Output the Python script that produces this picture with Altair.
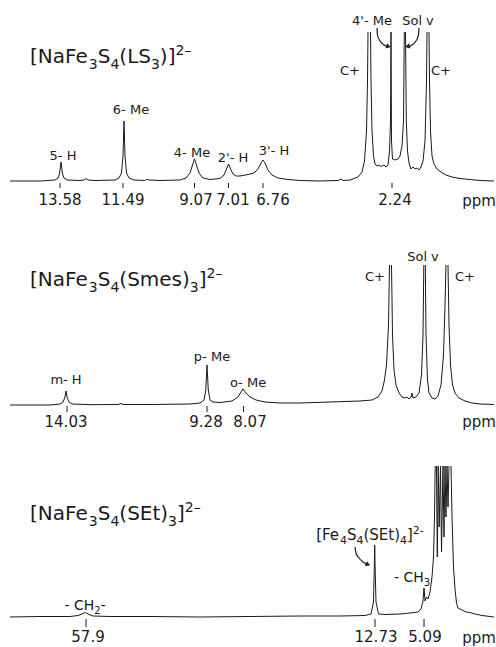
import altair as alt
import pandas as pd

FONT = "DejaVu Sans"
W = 496
INK = "#1a1a1a"

# ---------------- Panel 1: [NaFe3S4(LS3)]2- ----------------
P1_X = [
    [10, 40, 55, 58, 59.5, 60.5, 61, 61.5, 62.5, 64, 67, 80, 84, 86, 88, 95, 115, 119, 121.5, 123, 123.7,
     124, 124.3, 125, 126.5, 129, 134, 145, 146, 150, 160, 180, 186, 190, 192.5, 194.5, 196.5, 199, 203,
     210, 220, 224, 226.5, 228.5, 230.5, 233, 236, 240, 248, 254, 258, 261, 263, 265, 268, 272, 278, 288,
     300, 320, 338, 341, 343, 350, 358, 362, 364.5, 366.5, 367.5, 368],
    [370.5, 371, 372, 373.5, 375, 377, 379, 381, 384, 386, 388, 389.5, 390.5, 391, 391.5, 392.5, 395, 398,
     400, 402, 403.5, 404.3],
    [405.5, 406.3, 407.5, 409, 411, 413, 415, 417, 419, 421, 423, 425, 426.5, 427],
    [429, 429.5, 430.5, 432, 434, 437, 441, 446, 452, 460, 470, 480, 494],
]
P1_I = [
    [0, 0, 1, 3, 7, 15, 19, 15, 7, 3, 1, 0.5, 1, 2.5, 1, 0.5, 1, 3, 8, 25, 50,
     60, 50, 25, 8, 3, 1, 0.5, 1.5, 1, 0.5, 1, 3, 8, 16, 22, 16, 8, 3,
     1.5, 2.5, 6, 12, 17, 12, 7, 5, 5, 6.5, 8, 12, 18, 21, 18, 11, 6, 3, 1.5,
     0.5, 0, 0.5, 2, 0.5, 1, 4, 9, 20, 50, 100, 149],
    [149, 100, 50, 25, 17, 15, 16, 14.5, 16, 14, 16, 30, 60, 149, 40, 22, 21, 22,
     25, 35, 60, 149],
    [149, 60, 30, 18, 12, 14, 12, 13, 11, 14, 20, 40, 100, 149],
    [149, 100, 50, 25, 17, 12, 9, 6, 4, 2.5, 1.5, 0.5, 0],
]
P1_TICK_X = [60, 123, 194.5, 228.5, 263, 392]
P1_TICK_LABEL = ["13.58", "11.49", "9.07", "7.01", "6.76", "2.24"]
P1_TICK_LABEL_X = [60, 123, 196, 233, 273, 395]
P1_PEAK_LABEL = ["5- H", "6- Me", "4- Me", "2'- H", "3'- H", "4'- Me", "Sol v", "C+", "C+"]
P1_PEAK_LABEL_X = [63, 131, 192, 233, 274, 372, 418, 350, 441]
P1_PEAK_LABEL_I = [25, 71, 28, 23, 30, 160, 160, 110, 110]
P1_ARROWS_X = [[377, 377.5, 380, 384, 387], [419, 418.5, 416, 412, 409]]
P1_ARROWS_I = [[153, 146, 140, 136, 134.5], [153, 146, 140, 136, 134.5]]
P1_HEAD_X = [388.5, 407.5]
P1_HEAD_I = [134.5, 134.5]
P1_HEAD_SHAPE = ["triangle-right", "triangle-left"]
P1_HEAD_ANGLE = [15, 345]
P1_TITLE_PARTS = ["[NaFe", "3", "S", "4", "(LS", "3", ")]", "2–"]
P1_TITLE_KIND = ["n", "b", "n", "b", "n", "b", "n", "p"]

# ---------------- Panel 2: [NaFe3S4(Smes)3]2- ----------------
P2_X = [
    [10, 50, 60, 63, 65, 66, 67, 69, 72, 90, 118, 121, 123, 150, 190, 200, 204, 205.8, 206.5, 207, 207.5,
     208.3, 210, 213, 220, 232, 238, 241, 243, 246, 250, 256, 265, 280, 300, 330, 360, 372, 378, 382,
     384.5, 386.5, 388.5, 389.5],
    [391.5, 392.5, 394, 396, 399, 402, 405, 407, 409, 411, 412, 413, 416, 419, 421.5, 423, 423.8],
    [425.3, 426, 427.5, 429, 432, 435, 438, 441, 443.5, 445, 446],
    [448, 449, 450.5, 452.5, 455, 459, 465, 472, 480, 494],
]
P2_I = [
    [0, 0, 1, 3, 8, 14, 8, 3, 1, 0.3, 0.5, 1.5, 0.5, 0.5, 1, 2, 5, 15, 30, 40, 30,
     15, 5, 3, 2.5, 4, 8, 13, 16, 12, 8, 5, 3, 2, 2, 3, 4, 5, 8, 14,
     25, 40, 80, 140],
    [140, 70, 35, 20, 12, 8, 7, 8, 6, 8, 12, 7, 8, 12, 30, 70, 140],
    [140, 70, 25, 12, 7, 6, 9, 20, 50, 100, 140],
    [140, 80, 40, 20, 12, 7, 4, 2, 1, 0.5],
]
P2_TICK_X = [67, 207, 243.5]
P2_TICK_LABEL = ["14.03", "9.28", "8.07"]
P2_TICK_LABEL_X = [66, 206, 250]
P2_PEAK_LABEL = ["m- H", "p- Me", "o- Me", "C+", "Sol v", "C+"]
P2_PEAK_LABEL_X = [66, 212, 248, 375, 423, 465]
P2_PEAK_LABEL_I = [25, 48, 22, 128, 148, 128]
P2_TITLE_PARTS = ["[NaFe", "3", "S", "4", "(Smes)", "3", "]", "2–"]
P2_TITLE_KIND = ["n", "b", "n", "b", "n", "b", "n", "p"]

# ---------------- Panel 3: [NaFe3S4(SEt)3]2- ----------------
P3_X = [
    [10, 40, 70, 78, 83, 85.5, 88, 93, 110, 150, 200, 250, 300, 340, 365, 371, 373.5, 374.3, 374.7, 375.1,
     376, 378.5, 385, 400, 410, 418, 421, 423, 424, 425, 426.5, 428, 430, 432, 433.5, 434.5, 435.2],
    [436.5, 437.3, 438.2, 439.2, 440.5, 441.5, 443, 444, 445, 446, 447, 448, 449],
    [451, 452, 453.5, 455, 456.5, 458, 462, 466, 470, 475, 482, 494],
]
P3_I = [
    [0, 0.5, 0.5, 1.5, 3.5, 4.5, 3, 1, 0.5, 0.5, 0, 0.5, 1, 1, 1.5, 3, 15, 50, 72, 50,
     15, 3, 2.5, 3, 4, 5, 8, 16, 29, 16, 20, 18, 25, 40, 60, 100, 151],
    [151, 60, 151, 90, 151, 65, 151, 80, 151, 100, 151, 110, 151],
    [151, 100, 50, 28, 14, 9, 7, 5, 4.5, 3, 1.5, 0],
]
P3_TICK_X = [86, 375, 424]
P3_TICK_LABEL = ["57.9", "12.73", "5.09"]
P3_TICK_LABEL_X = [88, 376, 425]
P3_RICH_LABELS = [
    (["- CH", "2", "-"], ["n", "b", "n"], 85, 7, 14),
    (["[Fe", "4", "S", "4", "(SEt)", "4", "]", "2-"], ["n", "b", "n", "b", "n", "b", "n", "p"], 370, 77, 15),
    (["- CH", "3"], ["n", "b"], 412, 35, 14),
]
P3_ARROWS_X = [[355, 356, 359, 363, 366.5]]
P3_ARROWS_I = [[70, 64, 59, 55, 53]]
P3_HEAD_X = [368]
P3_HEAD_I = [52.5]
P3_HEAD_SHAPE = ["triangle-right"]
P3_HEAD_ANGLE = [25]
P3_TITLE_PARTS = ["[NaFe", "3", "S", "4", "(SEt)", "3", "]", "2–"]
P3_TITLE_KIND = ["n", "b", "n", "b", "n", "b", "n", "p"]

# DejaVu Sans advance widths (em) used to place subscript / superscript pieces
GLYPH_W = {" ": 0.318, "-": 0.361, "'": 0.275, "+": 0.838, ".": 0.318, "[": 0.390, "]": 0.390,
           "(": 0.390, ")": 0.390, "C": 0.698, "E": 0.632, "F": 0.575, "H": 0.752, "L": 0.557,
           "M": 0.863, "N": 0.748, "S": 0.635, "a": 0.613, "e": 0.615, "m": 0.974, "s": 0.521,
           "t": 0.392, "–": 0.5, "−": 0.838}


def text_w(s, size):
    return sum(GLYPH_W.get(c, 0.636) for c in s) * size


def rich_rows(parts, kinds, anchor, base_i, size, align):
    sub = round(size * 0.72)
    sizes = [size if k == "n" else sub for k in kinds]
    widths = [text_w(p, s) for p, s in zip(parts, sizes)]
    x = anchor if align == "left" else anchor - sum(widths) / 2
    rows = []
    for p, k, s, w in zip(parts, kinds, sizes, widths):
        rows.append({"pos": x, "inten": base_i, "t": p, "kind": k})
        x += w
    return rows, sub


def seg_frame(xs, ys, prefix):
    rows = []
    for k, (sx, sy) in enumerate(zip(xs, ys)):
        for i, (a, b) in enumerate(zip(sx, sy)):
            rows.append({"pos": a, "inten": b, "seg": f"{prefix}{k}", "order": i})
    return pd.DataFrame(rows)


def panel(height, ydom, tx, ti, tick_x, tick_top, tick_bot, tick_lbl, tick_lbl_x, tick_lbl_i,
          ppm_i, pk_lbl, pk_x, pk_i, title_parts, title_kind, title_i, rich=None, arrows=None, heads=None):
    xs = alt.Scale(domain=[0, W], nice=False, zero=False)
    ys = alt.Scale(domain=ydom, nice=False, zero=False)

    def X(f):
        return alt.X(f, type="quantitative", scale=xs, axis=None)

    def Y(f):
        return alt.Y(f, type="quantitative", scale=ys, axis=None)

    trace = seg_frame(tx, ti, "s")
    layers = [
        alt.Chart(trace).mark_line(color=INK, strokeWidth=1, strokeJoin="round").encode(
            x=X("pos"), y=Y("inten"), detail="seg:N", order="order:Q")
    ]
    tk = pd.DataFrame({"pos": tick_x, "top": [tick_top] * len(tick_x), "bot": [tick_bot] * len(tick_x)})
    layers.append(alt.Chart(tk).mark_rule(color=INK, strokeWidth=1).encode(
        x=X("pos"), y=Y("top"), y2="bot"))
    tl = pd.DataFrame({"pos": tick_lbl_x + [479], "inten": [tick_lbl_i] * len(tick_lbl_x) + [ppm_i],
                       "t": tick_lbl + ["ppm"]})
    layers.append(alt.Chart(tl).mark_text(font=FONT, fontSize=15, color=INK, baseline="middle",
                                          align="center").encode(x=X("pos"), y=Y("inten"), text="t:N"))
    if pk_lbl:
        pl = pd.DataFrame({"pos": pk_x, "inten": pk_i, "t": pk_lbl})
        layers.append(alt.Chart(pl).mark_text(font=FONT, fontSize=13, color=INK, baseline="middle",
                                              align="center").encode(x=X("pos"), y=Y("inten"), text="t:N"))

    groups = [(title_parts, title_kind, 30, title_i, 20, "left")]
    if rich:
        for parts, kinds, cx, bi, sz in rich:
            groups.append((parts, kinds, cx, bi, sz, "center"))
    for parts, kinds, ax0, bi, sz, al in groups:
        rows, sub = rich_rows(parts, kinds, ax0, bi, sz, al)
        df = pd.DataFrame(rows)
        for kind, fs, dy in [("n", sz, 0), ("b", sub, round(sz * 0.28)), ("p", sub, -round(sz * 0.42))]:
            d = df[df["kind"] == kind]
            if len(d) == 0:
                continue
            layers.append(alt.Chart(d).mark_text(font=FONT, fontSize=fs, color=INK, baseline="alphabetic",
                                                 align="left", dy=dy).encode(
                x=X("pos"), y=Y("inten"), text="t:N"))

    if arrows:
        ax, ai = arrows
        ar = seg_frame(ax, ai, "a")
        layers.append(alt.Chart(ar).mark_line(color=INK, strokeWidth=1.2, interpolate="monotone").encode(
            x=X("pos"), y=Y("inten"), detail="seg:N", order="order:Q"))
    if heads:
        hx, hi, hs, ha = heads
        for a, b, s, g in zip(hx, hi, hs, ha):
            hd = pd.DataFrame({"pos": [a], "inten": [b]})
            layers.append(alt.Chart(hd).mark_point(filled=True, color=INK, size=28, opacity=1,
                                                   shape=s, angle=g).encode(x=X("pos"), y=Y("inten")))
    return alt.layer(*layers).properties(width=W, height=height)


p1 = panel(215, [-34, 181], P1_X, P1_I, P1_TICK_X, -2, -7, P1_TICK_LABEL, P1_TICK_LABEL_X, -18.5,
           -20, P1_PEAK_LABEL, P1_PEAK_LABEL_X, P1_PEAK_LABEL_I, P1_TITLE_PARTS, P1_TITLE_KIND, 118,
           arrows=(P1_ARROWS_X, P1_ARROWS_I), heads=(P1_HEAD_X, P1_HEAD_I, P1_HEAD_SHAPE, P1_HEAD_ANGLE))
p2 = panel(215, [-25, 190], P2_X, P2_I, P2_TICK_X, -1, -7, P2_TICK_LABEL, P2_TICK_LABEL_X, -16.5,
           -17, P2_PEAK_LABEL, P2_PEAK_LABEL_X, P2_PEAK_LABEL_I, P2_TITLE_PARTS, P2_TITLE_KIND, 119)
p3 = panel(217, [-30, 187], P3_X, P3_I, P3_TICK_X, -2, -10, P3_TICK_LABEL, P3_TICK_LABEL_X, -20,
           -21, [], [], [], P3_TITLE_PARTS, P3_TITLE_KIND, 97, rich=P3_RICH_LABELS,
           arrows=(P3_ARROWS_X, P3_ARROWS_I), heads=(P3_HEAD_X, P3_HEAD_I, P3_HEAD_SHAPE, P3_HEAD_ANGLE))

chart = alt.vconcat(p1, p2, p3, spacing=0, bounds="flush").properties(
    padding=0, background="white"
).configure_view(stroke=None, strokeWidth=0)

chart.save("out.html", embed_options={"renderer": "svg", "actions": False})
